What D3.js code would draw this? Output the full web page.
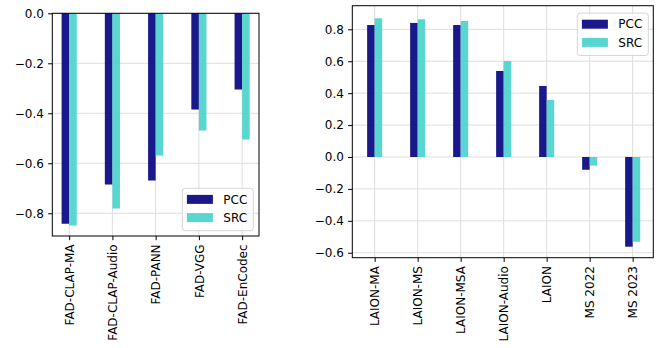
<!DOCTYPE html>
<html>
<head>
<meta charset="utf-8">
<script src="https://cdn.jsdelivr.net/npm/d3@7"></script>
<style>
  body { margin: 0; background: #fff; }
  svg { display: block; }
</style>
</head>
<body>
<div id="chart"></div>
<script>
// Data
const fadLabels = ['FAD-CLAP-MA', 'FAD-CLAP-Audio', 'FAD-PANN', 'FAD-VGG', 'FAD-EnCodec'];
const fadPCC = [-0.842, -0.685, -0.669, -0.385, -0.305];
const fadSRC = [-0.849, -0.781, -0.569, -0.469, -0.505];
const fadTicks = [0, -0.2, -0.4, -0.6, -0.8];

const laionLabels = ['LAION-MA', 'LAION-MS', 'LAION-MSA', 'LAION-Audio', 'LAION', 'MS 2022', 'MS 2023'];
const laionPCC = [0.827, 0.840, 0.827, 0.539, 0.445, -0.080, -0.562];
const laionSRC = [0.869, 0.863, 0.852, 0.601, 0.357, -0.054, -0.531];
const laionTicks = [0.8, 0.6, 0.4, 0.2, 0, -0.2, -0.4, -0.6];

const seriesNames = ['PCC', 'SRC'];
const colors = { PCC: 'navy', SRC: 'mediumturquoise' };

const W = 660, H = 348;
const FONT = '"DejaVu Sans", sans-serif';
const FS = '12px';
const barW = 0.175;
const fmt = d => d3.format('.1f')(d).replace('-', '\u2212');

const svg = d3.select('#chart').append('svg')
    .attr('width', W)
    .attr('height', H);

function drawPanel(opts) {
    const { left, right, top, bottom, xDomain, yDomain, labels, pcc, src, ticks, legend } = opts;
    const x = d3.scaleLinear().domain(xDomain).range([left, right]);
    const y = d3.scaleLinear().domain(yDomain).range([bottom, top]);
    const g = svg.append('g');

    // Grid
    g.append('g').selectAll('line').data(ticks).join('line')
        .attr('x1', left).attr('x2', right)
        .attr('y1', d => y(d)).attr('y2', d => y(d))
        .attr('stroke', '#dedede').attr('stroke-width', 1);
    g.append('g').selectAll('line').data(labels).join('line')
        .attr('x1', (d, i) => x(i)).attr('x2', (d, i) => x(i))
        .attr('y1', top).attr('y2', bottom)
        .attr('stroke', '#dedede').attr('stroke-width', 1);

    // Bars
    const rows = [];
    labels.forEach((l, i) => {
        rows.push({ s: 'PCC', i: i, v: pcc[i] });
        rows.push({ s: 'SRC', i: i, v: src[i] });
    });
    g.append('g').selectAll('rect').data(rows).join('rect')
        .attr('x', d => x(d.s === 'PCC' ? d.i - barW : d.i))
        .attr('width', x(barW) - x(0))
        .attr('y', d => y(Math.max(0, d.v)))
        .attr('height', d => Math.abs(y(d.v) - y(0)))
        .attr('fill', d => colors[d.s])
        .attr('fill-opacity', 0.9);

    // Axes
    const xAxis = g.append('g')
        .attr('transform', `translate(0,${bottom})`)
        .call(d3.axisBottom(x).tickValues(d3.range(labels.length)).tickFormat(i => labels[i]).tickSize(4.2).tickPadding(4.2));
    xAxis.selectAll('text')
        .attr('transform', 'rotate(-90)')
        .attr('x', -8.4).attr('y', 0).attr('dy', '0.35em')
        .style('text-anchor', 'end');
    const yAxis = g.append('g')
        .attr('transform', `translate(${left},0)`)
        .call(d3.axisLeft(y).tickValues(ticks).tickFormat(fmt).tickSize(4.2).tickPadding(4.2));
    [xAxis, yAxis].forEach(a => {
        a.attr('font-size', null).attr('font-family', null);
        a.select('.domain').remove();
        a.selectAll('text')
            .style('font-family', FONT)
            .style('font-size', FS)
            .attr('fill', '#000');
    });

    // Frame
    g.append('rect')
        .attr('x', left).attr('y', top)
        .attr('width', right - left).attr('height', bottom - top)
        .attr('fill', 'none').attr('stroke', '#000').attr('stroke-width', 1);

    // Legend
    const lg = g.append('g').attr('transform', `translate(${legend.x},${legend.y})`);
    lg.append('rect')
        .attr('width', 71).attr('height', 42.4).attr('rx', 3)
        .attr('fill', '#fff').attr('fill-opacity', 0.8)
        .attr('stroke', '#d6d6d6');
    seriesNames.forEach((s, k) => {
        lg.append('rect')
            .attr('x', 4.6).attr('y', 6.6 + k * 18.2)
            .attr('width', 26).attr('height', 9)
            .attr('fill', colors[s]).attr('fill-opacity', 0.9);
        lg.append('text')
            .attr('x', 41).attr('y', 11.1 + k * 18.2).attr('dy', '0.35em')
            .style('font-family', FONT)
            .style('font-size', FS)
            .text(s);
    });
}

drawPanel({
    left: 52.3, right: 259, top: 13.3, bottom: 236,
    xDomain: [-0.39, 4.39], yDomain: [-0.891, 0],
    labels: fadLabels, pcc: fadPCC, src: fadSRC, ticks: fadTicks,
    legend: { x: 182.3, y: 188.3 }
});

drawPanel({
    left: 352.3, right: 653.3, top: 5.7, bottom: 257.7,
    xDomain: [-0.52, 6.48], yDomain: [-0.631, 0.948],
    labels: laionLabels, pcc: laionPCC, src: laionSRC, ticks: laionTicks,
    legend: { x: 577.3, y: 13.1 }
});
</script>
</body>
</html>
